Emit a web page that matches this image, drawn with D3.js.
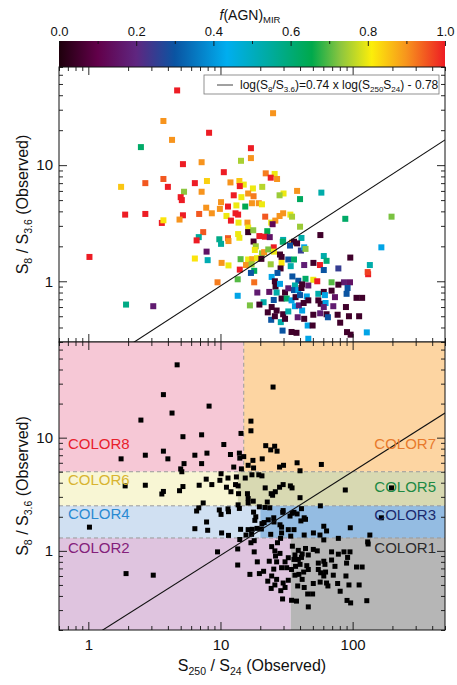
<!DOCTYPE html>
<html><head><meta charset="utf-8">
<script src="https://cdn.jsdelivr.net/npm/d3@7"></script>
<style>
body{margin:0;background:#fff}
svg text{font-family:"Liberation Sans",Arial,Helvetica,sans-serif;fill:#111}
.axis path{display:none}
.axis line{stroke:#111;stroke-width:0.9}
.tick-lab text{font-size:15px}
.cb-lab text{font-size:13px}
</style></head><body>
<svg id="chart" width="457" height="685"></svg>
<script>
// S250/S24, S8/S3.6 and f(AGN)_MIR per source
const s250s24 = [
  4.7,25,3.7,8.2,4.3,2.5,17,14.3,17,5.2,
  7.2,10.6,22,25.7,24,26.8,3.7,2.7,1.77,4.0,
  7.9,6.4,13.9,11.9,15,14,5.3,7.2,17.6,20.7,
  38,58,5.0,5.1,12.6,14.4,16.2,17.8,30,28,
  40,10.1,11.4,13.2,15.4,17.3,19.5,20.6,7.8,1.9,
  2.7,5.2,6.9,8.6,9.9,11.1,13,13.6,12,13.7,
  16,21.8,24.2,26,28,29.8,33.8,34.8,88,197,
  3.6,3.7,4.9,24.8,16.2,40,7.4,16.2,17.7,22.6,
  57,6.85,6.6,9.8,11.4,13.6,13.9,10.1,11.5,17.8,
  19.7,21.7,23.6,29.8,34.8,36,41,18.5,25.3,29.6,
  38,40.6,43,44,33.6,7.85,18.2,20.6,21.4,23,
  25.4,28.2,1.02,6.4,8.0,14.2,16.2,17.4,18.9,20.4,
  29,32.6,36,60.5,96,165,10.2,11.5,14,15.6,
  17.2,18,17,24,29,34,28.5,27,24.4,43,
  50.5,56.6,63.5,60.5,78,135,131,130,9.5,13.5,
  18,19,13.5,21.2,16.7,19.7,1.93,3.1,25.8,26.1,
  28.2,35,38.8,44,50.4,54,41.5,36.6,36,38.8,
  30.8,32.6,26.6,23.4,25.3,29,31.7,34.5,37,40,
  45,55,60.5,69.3,86,95.5,69.3,78,91.6,90,
  73.5,107,118,89,77,93.8,112,80.5,90.7,96.6,
  128,29.5,34.5,37.6,46.2,45.7,49.8,28.6,24.2,22.8,
  26.6,24.4,29.8,25.8,30.8,32.6,36.6,41.5,39.2,42.6,
  46.2,55,57.3,62.4,60.5,71.4,56.8,50.4,63.5,65,38.4,43,
  41,46.2,61.7
];
const s8s36 = [
  44,28,24,19,16.5,14.3,14,10.9,11.5,10.2,
  10.6,8.7,8.5,8.4,7.8,7.6,7.6,7.0,6.5,6.5,
  7.3,7.0,7.3,7.1,6.8,6.6,5.9,5.9,6.3,6.5,
  6.0,5.8,5.3,5.0,5.5,5.3,5.7,5.4,5.7,5.5,
  5.1,4.8,4.4,4.5,4.4,4.7,4.7,4.6,4.3,3.75,
  3.8,3.7,3.8,3.85,4.2,3.65,3.85,3.75,3.33,3.2,
  3.2,3.6,3.2,3.33,3.65,3.85,3.75,3.6,3.45,3.6,
  3.18,3.35,3.4,3.1,2.9,2.95,2.65,2.65,2.75,2.7,
  2.5,2.4,2.25,2.3,2.35,2.55,2.37,2.1,2.22,2.2,
  2.45,2.42,2.4,2.27,2.15,2.19,2.36,2.0,1.96,2.19,
  2.12,1.84,1.96,1.9,2.03,1.8,1.86,1.74,1.78,1.88,
  1.8,1.7,1.62,1.57,1.52,1.55,1.54,1.55,1.58,1.56,
  1.62,1.54,1.54,1.65,1.6,1.96,1.44,1.37,1.26,1.38,
  1.4,1.23,1.18,1.4,1.44,1.35,1.29,1.18,1.09,1.38,
  1.44,1.38,1.5,1.25,1.29,1.38,1.15,1.2,0.98,1.04,
  0.98,0.8,0.75,0.66,0.62,0.63,0.63,0.61,1.0,0.9,
  0.95,1.1,1.01,1.05,1.03,1.0,0.94,0.92,0.84,0.84,
  0.8,0.87,0.8,0.81,0.69,0.71,0.71,0.685,0.73,0.76,
  0.74,0.78,0.81,0.83,0.98,0.98,0.98,0.935,0.875,0.78,
  0.73,0.72,0.72,0.6,0.515,0.5,0.5,0.44,0.365,0.347,
  0.363,0.376,0.366,0.36,0.32,0.416,0.416,0.445,0.466,0.54,
  0.56,0.6,0.52,0.5,0.475,0.55,0.61,0.56,0.62,0.65,
  0.685,0.685,0.64,0.65,0.6,0.61,0.53,0.515,0.52,0.49,0.49,0.475,
  0.875,0.92,0.76
];
const fAgn = [
  1,.9,.9,1,.9,.62,1,.75,.9,1,
  .9,1,.92,.8,1,.9,.95,.95,.85,1,
  .84,1,.85,.9,.8,1,.73,.9,.8,.76,
  .9,.53,1,1,1,.8,.9,.92,.8,.74,
  .63,.9,1,.8,.65,.9,.9,.8,.9,1,
  1,1,.95,.9,.9,.8,1,1,1,.8,
  .9,.95,.8,.9,.9,.9,.8,.75,.62,.72,
  1,.82,.9,.12,.8,.74,.95,.04,.73,.65,
  .05,.55,1,.58,.95,.8,.8,.55,.9,.05,
  1,1,.15,.53,.9,.04,.53,.74,1,.62,
  .05,.25,.42,.73,.3,.15,.8,.73,.9,.72,
  .8,.05,1,.82,.52,.7,.8,.88,.8,.05,
  .05,.3,.62,.53,.05,.42,.9,.8,1,.9,
  .74,.63,.3,.74,.82,.53,.05,.3,.42,.18,
  .05,1,.6,.3,.25,.53,1,.97,.92,.7,
  .93,.17,.42,.53,.72,.05,.58,.17,.05,.04,
  .42,.3,.3,.62,.8,1,.05,.53,.3,.42,
  .05,.17,.53,.15,.3,.05,.62,.42,.05,.3,
  .42,.53,.05,.05,.17,.15,.7,.05,.3,.3,
  .15,.05,.05,.05,.05,.05,.05,.05,.05,.05,
  .42,.3,.05,.05,.42,.42,.05,.53,.3,.05,
  .05,.05,.05,.05,.05,.53,.42,.42,.17,.05,
  .05,.05,.05,.42,.17,.17,.17,.05,.05,.3,.17,.05,
  .05,.17,.42
];

// axes
const xDomain = [0.6, 500];
const yTopDomain = [0.3, 70];
const yBotDomain = [0.2, 70];
const xMajor = [1, 10, 100];
const yMajor = [1, 10];

// colour bar
const cbStops  = [0, 0.1, 0.2, 0.3, 0.435, 0.55, 0.655, 0.73, 0.81, 0.9, 1];
const cbColors = ['#1e000c', '#62004a', '#5f2680', '#0a54a2', '#00aeef', '#00ab9c', '#00a94c', '#8dc63f', '#fcee0a', '#f7941d', '#ed1c24'];
const cbTicks  = [0, 0.2, 0.4, 0.6, 0.8, 1.0];
const cbMinor  = [0.1, 0.3, 0.5, 0.7, 0.9];

// fit line: log(S8/S3.6) = 0.74 log(S250/S24) - 0.78
const fitSlope = 0.74, fitIntercept = -0.78;

// colour regions of the lower panel
const regionName  = ['COLOR8', 'COLOR7', 'COLOR6', 'COLOR5', 'COLOR4', 'COLOR3', 'COLOR2', 'COLOR1'];
const regionX     = [[0.6, 15], [15, 500], [0.6, 13.5], [13.5, 500], [0.6, 20], [20, 500], [0.6, 34], [34, 500]];
const regionY     = [[5, 70], [5, 70], [2.5, 5], [2.5, 5], [1.3, 2.5], [1.3, 2.5], [0.2, 1.3], [0.2, 1.3]];
const regionFill  = ['#f6c8d6', '#fdd5a2', '#f8f6d4', '#d8d9b2', '#d0e0f2', '#94bce2', '#dfc4df', '#b6b6b6'];
const regionInk   = ['#e8202c', '#e87a2c', '#d8b430', '#1d8a44', '#2a8ad2', '#1a2a6e', '#84207a', '#2a2a2a'];
const regionLabY  = [8.8, 8.8, 4.25, 3.7, 2.13, 2.1, 1.06, 1.06];
const bandEdges   = [5, 2.5, 1.3];
const splitX      = 15;

const svg = d3.select('#chart');
const L = 59, R = 445, CBT = 41, T1 = 67, B1 = 342, B2 = 630;

const x = d3.scaleLog().domain(xDomain).range([L, R]);
const yTop = d3.scaleLog().domain(yTopDomain).range([B1, T1]);
const yBot = d3.scaleLog().domain(yBotDomain).range([B2, B1]);
const cmap = d3.scaleLinear().domain(cbStops).range(cbColors).clamp(true);
const cb = d3.scaleLinear().domain([0, 1]).range([L, R]);

const defs = svg.append('defs');
defs.append('clipPath').attr('id', 'clipTop').append('rect')
  .attr('x', L).attr('y', T1).attr('width', R - L).attr('height', B1 - T1);
defs.append('clipPath').attr('id', 'clipBot').append('rect')
  .attr('x', L).attr('y', B1).attr('width', R - L).attr('height', B2 - B1);
const grad = defs.append('linearGradient').attr('id', 'cbGrad');
cbStops.forEach((s, i) => grad.append('stop').attr('offset', (s * 100) + '%').attr('stop-color', cbColors[i]));

// ---- colour bar
svg.append('rect').attr('x', L).attr('y', CBT).attr('width', R - L).attr('height', T1 - CBT)
  .attr('fill', 'url(#cbGrad)');
svg.append('g').attr('class', 'axis').attr('transform', `translate(0,${CBT})`)
  .call(d3.axisTop(cb).tickValues(cbMinor).tickSizeInner(-3).tickSizeOuter(0).tickFormat(''));
svg.append('g').attr('class', 'axis cb-lab').attr('transform', `translate(0,${CBT})`)
  .call(d3.axisTop(cb).tickValues(cbTicks).tickSizeInner(-5).tickSizeOuter(0).tickPadding(5).tickFormat(d3.format('.1f')));
const ttl = svg.append('text').attr('x', (L + R) / 2 - 2).attr('y', 20).attr('text-anchor', 'middle')
  .style('font-size', '14px');
ttl.append('tspan').attr('font-style', 'italic').text('f');
ttl.append('tspan').text('(AGN)');
ttl.append('tspan').attr('dy', 2.5).style('font-size', '9.5px').text('MIR');

// ---- helpers
const xMinor = x.ticks().filter(v => !xMajor.includes(v));
function frame(ys, top, bot, labelX) {
  const yMinor = ys.ticks().filter(v => !yMajor.includes(v));
  const add = (fn, scale, tr, vals, size, fmt, pad) => svg.append('g')
    .attr('class', 'axis' + (fmt ? ' tick-lab' : '')).attr('transform', tr)
    .call(fn(scale).tickValues(vals).tickSizeInner(size).tickSizeOuter(0)
      .tickPadding(pad || 3).tickFormat(fmt || ''));
  add(d3.axisBottom, x, `translate(0,${bot})`, xMinor, -4);
  add(d3.axisBottom, x, `translate(0,${bot})`, xMajor, -8, labelX ? d3.format('d') : null, 9);
  add(d3.axisTop, x, `translate(0,${top})`, xMinor, -4);
  add(d3.axisTop, x, `translate(0,${top})`, xMajor, -8);
  add(d3.axisLeft, ys, `translate(${L},0)`, yMinor, -4);
  add(d3.axisLeft, ys, `translate(${L},0)`, yMajor, -8, d3.format('d'), 6);
  add(d3.axisRight, ys, `translate(${R},0)`, yMinor, -4);
  add(d3.axisRight, ys, `translate(${R},0)`, yMajor, -8);
  svg.append('rect').attr('x', L).attr('y', top).attr('width', R - L).attr('height', bot - top)
    .attr('fill', 'none').attr('stroke', '#111').attr('stroke-width', 1);
}
function fitLine(ys, clip) {
  const line = d3.line().x(d => x(d)).y(d => ys(Math.pow(10, fitSlope * Math.log10(d) + fitIntercept)));
  svg.append('path').attr('clip-path', `url(#${clip})`).attr('d', line(xDomain))
    .attr('fill', 'none').attr('stroke', '#111').attr('stroke-width', 1.1);
}
function yTitle(cy) {
  const t = svg.append('text').attr('transform', `translate(28,${cy}) rotate(-90)`)
    .attr('text-anchor', 'middle').style('font-size', '16px');
  t.append('tspan').text('S');
  t.append('tspan').attr('dy', 4).style('font-size', '10.5px').text('8');
  t.append('tspan').attr('dy', -4).text(' / S');
  t.append('tspan').attr('dy', 4).style('font-size', '10.5px').text('3.6');
  t.append('tspan').attr('dy', -4).text(' (Observed)');
}

// ---- top panel
const topG = svg.append('g').attr('clip-path', 'url(#clipTop)');
topG.selectAll('rect').data(d3.range(s250s24.length)).join('rect')
  .attr('x', i => x(s250s24[i]) - 3).attr('y', i => yTop(s8s36[i]) - 3)
  .attr('width', 6).attr('height', 6).attr('fill', i => cmap(fAgn[i]));
fitLine(yTop, 'clipTop');
frame(yTop, T1, B1, false);

// legend
const lg = svg.append('g');
lg.append('rect').attr('x', 204).attr('y', 75).attr('width', 235).attr('height', 19)
  .attr('fill', '#fff').attr('stroke', '#777').attr('stroke-width', 0.8);
lg.append('line').attr('x1', 217).attr('x2', 233).attr('y1', 85).attr('y2', 85)
  .attr('stroke', '#111').attr('stroke-width', 0.8);
const lt = lg.append('text').attr('x', 240).attr('y', 89).style('font-size', '12px');
[['log(S', 0], ['8', 1], ['/S', 0], ['3.6', 1], [')=0.74 x log(S', 0], ['250', 1], ['S', 0], ['24', 1], [') - 0.78', 0]]
  .forEach(([s, sub], i, arr) => {
    const prev = i ? arr[i - 1][1] : 0;
    lt.append('tspan').attr('dy', sub === prev ? 0 : (sub ? 3 : -3))
      .style('font-size', sub ? '8px' : null).text(s);
  });

// ---- bottom panel
const botG = svg.append('g').attr('clip-path', 'url(#clipBot)');
botG.selectAll('rect.reg').data(regionName).join('rect').attr('class', 'reg')
  .attr('x', (d, i) => x(regionX[i][0])).attr('width', (d, i) => x(regionX[i][1]) - x(regionX[i][0]))
  .attr('y', (d, i) => yBot(regionY[i][1])).attr('height', (d, i) => yBot(regionY[i][0]) - yBot(regionY[i][1]))
  .attr('fill', (d, i) => regionFill[i]);
botG.selectAll('line.band').data(bandEdges).join('line').attr('class', 'band')
  .attr('x1', L).attr('x2', R).attr('y1', d => yBot(d)).attr('y2', d => yBot(d))
  .attr('stroke', '#9a9a9a').attr('stroke-width', 1).attr('stroke-dasharray', '4,3');
botG.append('line').attr('x1', x(splitX)).attr('x2', x(splitX))
  .attr('y1', yBot(bandEdges[0])).attr('y2', B1)
  .attr('stroke', '#9a9a9a').attr('stroke-width', 1).attr('stroke-dasharray', '4,3');
botG.selectAll('rect.pt').data(d3.range(s250s24.length)).join('rect').attr('class', 'pt')
  .attr('x', i => x(s250s24[i]) - 2.5).attr('y', i => yBot(s8s36[i]) - 2.5)
  .attr('width', 5).attr('height', 5).attr('fill', '#000');
fitLine(yBot, 'clipBot');
svg.selectAll('text.reglab').data(regionName).join('text').attr('class', 'reglab')
  .attr('x', (d, i) => i % 2 ? R - 9 : L + 9)
  .attr('y', (d, i) => yBot(regionLabY[i])).attr('dy', '0.36em')
  .attr('text-anchor', (d, i) => i % 2 ? 'end' : 'start')
  .style('font-size', '15px').style('fill', (d, i) => regionInk[i]).text(d => d);
frame(yBot, B1, B2, true);

yTitle((T1 + B1) / 2);
yTitle((B1 + B2) / 2);
const xt = svg.append('text').attr('x', (L + R) / 2).attr('y', 671).attr('text-anchor', 'middle')
  .style('font-size', '16px');
xt.append('tspan').text('S');
xt.append('tspan').attr('dy', 4).style('font-size', '10.5px').text('250');
xt.append('tspan').attr('dy', -4).text(' / S');
xt.append('tspan').attr('dy', 4).style('font-size', '10.5px').text('24');
xt.append('tspan').attr('dy', -4).text(' (Observed)');
</script>
</body></html>
